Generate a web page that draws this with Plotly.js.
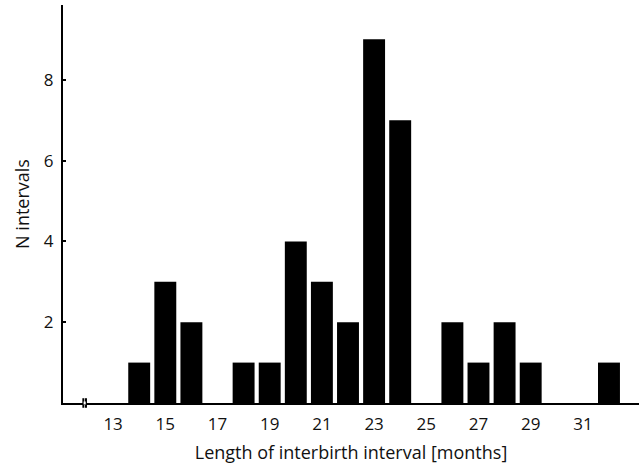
<!DOCTYPE html>
<html><head><meta charset="utf-8">
<script src="https://cdn.plot.ly/plotly-3.0.1.min.js"></script>
<style>html,body{margin:0;padding:0;background:#fff}#c{width:639px;height:467px}</style>
</head><body><div id="c"></div>
<script>
const months = [14, 15, 16, 18, 19, 20, 21, 22, 23, 24, 26, 27, 28, 29, 32];
const counts = [1, 3, 2, 1, 1, 4, 3, 2, 9, 7, 2, 1, 2, 1, 1];
const xTicks = [13, 15, 17, 19, 21, 23, 25, 27, 29, 31];
const yTicks = [2, 4, 6, 8];

const font = "Open Sans, Noto Sans, sans-serif";
const trace = {type:'bar', x:months, y:counts, width:0.84,
  marker:{color:'#000', line:{width:0}}, hoverinfo:'none'};
const layout = {
  width:639, height:467, margin:{l:63, r:0, t:5, b:64},
  paper_bgcolor:'#fff', plot_bgcolor:'#fff', showlegend:false,
  font:{family:font, color:'#111'},
  xaxis:{range:[11.08, 33.15], tickmode:'array', tickvals:xTicks, ticktext:xTicks.map(String),
    showgrid:false, zeroline:false, showline:true, linecolor:'#000', linewidth:2,
    ticks:'', tickfont:{size:17, family:font}, ticklabelstandoff:5,
    title:{text:'Length of interbirth interval [months]', font:{size:18, family:font}, standoff:12}},
  yaxis:{range:[0, 9.85], tickmode:'array', tickvals:yTicks, ticktext:yTicks.map(String),
    showgrid:false, zeroline:false, showline:true, linecolor:'#000', linewidth:2,
    ticks:'inside', ticklen:3, tickwidth:2, tickcolor:'#000', tickfont:{size:17, family:font},
    ticklabelstandoff:4,
    title:{text:'N intervals', font:{size:18, family:font}, standoff:10}},
  shapes:[
    {type:'line', xref:'x', yref:'paper', x0:11.86, x1:11.86, y0:-0.012, y1:0.012, line:{color:'#000', width:2}},
    {type:'line', xref:'x', yref:'paper', x0:11.96, x1:11.96, y0:-0.012, y1:0.012, line:{color:'#000', width:2}},
    {type:'line', xref:'x', yref:'paper', x0:11.87, x1:11.95, y0:0, y1:0, line:{color:'#fff', width:3}}
  ]
};
Plotly.newPlot('c', [trace], layout, {staticPlot:true, displayModeBar:false});
</script></body></html>
